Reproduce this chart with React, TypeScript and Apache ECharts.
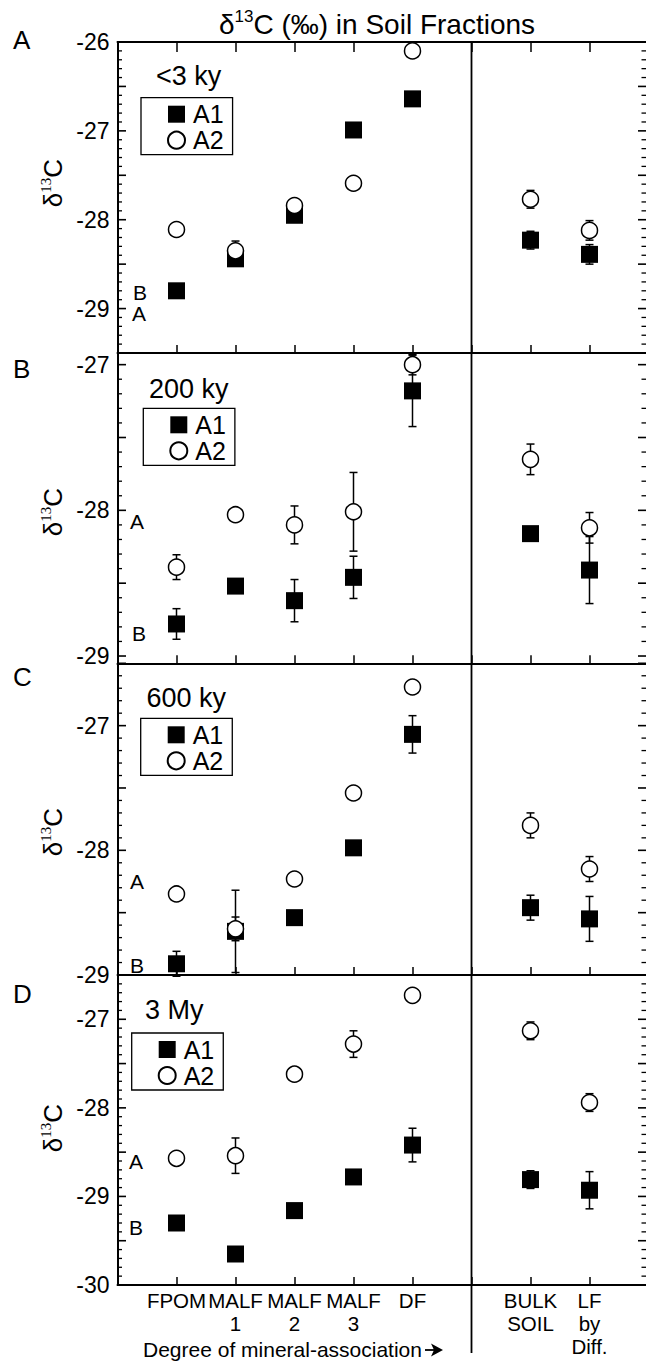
import React, { useEffect, useRef } from 'react';
import * as echarts from 'echarts';

// ---------- data ----------
const categories = ['FPOM', 'MALF\n1', 'MALF\n2', 'MALF\n3', 'DF', 'BULK\nSOIL', 'LF\nby\nDiff.'];
const panelLetters = ['A', 'B', 'C', 'D'];
const ageLabels = ['<3 ky', '200 ky', '600 ky', '3 My'];
const seriesNames = ['A1', 'A2'];

// order: FPOM, MALF1, MALF2, MALF3, DF, BULK SOIL, LF by Diff.
const a1_3ky = [-28.8, -28.44, -27.95, -26.99, -26.64, -28.23, -28.39];
const a1_3ky_err = [0, 0, 0, 0, 0, 0.1, 0.11];
const a2_3ky = [-28.11, -28.35, -27.84, -27.59, -26.1, -27.77, -28.12];
const a2_3ky_err = [0, 0.11, 0, 0, 0, 0.1, 0.11];

const a1_200ky = [-28.78, -28.52, -28.62, -28.46, -27.18, -28.16, -28.41];
const a1_200ky_err = [0.105, 0, 0.145, 0.145, 0.245, 0, 0.23];
const a2_200ky = [-28.39, -28.03, -28.1, -28.01, -27.0, -27.65, -28.12];
const a2_200ky_err = [0.085, 0, 0.13, 0.27, 0.07, 0.105, 0.105];

const a1_600ky = [-28.91, -28.65, -28.54, -27.98, -27.07, -28.46, -28.55];
const a1_600ky_err = [0.1, 0.33, 0, 0, 0.15, 0.1, 0.18];
const a2_600ky = [-28.35, -28.63, -28.23, -27.54, -26.69, -27.8, -28.15];
const a2_600ky_err = [0, 0.095, 0, 0, 0, 0.1, 0.1];

const a1_3my = [-29.3, -29.65, -29.16, -28.78, -28.42, -28.81, -28.93];
const a1_3my_err = [0, 0, 0, 0, 0.19, 0.1, 0.21];
const a2_3my = [-28.57, -28.54, -27.62, -27.28, -26.73, -27.13, -27.94];
const a2_3my_err = [0, 0.2, 0, 0.15, 0, 0.1, 0.1];

const yMin = [-29.5, -29.05, -29, -30];
const yMax = [-26, -26.92, -26.5, -26.5];
const yTickLabels = [
  [-29, -28, -27, -26],
  [-29, -28, -27],
  [-29, -28, -27],
  [-30, -29, -28, -27],
];

const panelData = [
  { a1: a1_3ky, a1e: a1_3ky_err, a2: a2_3ky, a2e: a2_3ky_err },
  { a1: a1_200ky, a1e: a1_200ky_err, a2: a2_200ky, a2e: a2_200ky_err },
  { a1: a1_600ky, a1e: a1_600ky_err, a2: a2_600ky, a2e: a2_600ky_err },
  { a1: a1_3my, a1e: a1_3my_err, a2: a2_3my, a2e: a2_3my_err },
];

// ---------- layout ----------
const FONT = '"Liberation Sans", Arial, Helvetica, sans-serif';
const L = 117.5;
const W = 531;
const X_MAX = 9;
const tops = [42, 353, 663.3, 975];
const bottoms = [353, 663.3, 975, 1285];
// x slot on axis: 5 fractions, a gap, then bulk soil & LF
const slotOf = (j: number) => (j < 5 ? j + 1 : j + 2);
const slots = categories.map((_, j) => slotOf(j));

function steps(min: number, max: number, step: number) {
  const out: number[] = [];
  const s = Math.ceil(min / step - 1e-6);
  const e = Math.floor(max / step + 1e-6);
  for (let k = s; k <= e; k++) out.push(Math.round(k * step * 10) / 10);
  return out;
}

const blk = '#000';

function buildOption() {
  const grid: any[] = [];
  const xAxis: any[] = [];
  const yAxis: any[] = [];
  const series: any[] = [];
  const legend: any[] = [];

  for (let i = 0; i < 4; i++) {
    grid.push({
      left: L, width: W, top: tops[i], height: bottoms[i] - tops[i],
      show: false, containLabel: false, outerBoundsMode: 'none',
    });
    xAxis.push({
      gridIndex: i, type: 'value', min: 0, max: X_MAX, interval: 1, position: 'bottom',
      axisLine: { show: true, onZero: false, lineStyle: { color: blk, width: 2 } },
      axisTick: { show: true, inside: true, length: 8, lineStyle: { color: blk, width: 1.5 } },
      axisLabel: i === 3 ? {
        show: true, customValues: slots,
        formatter: (v: number) => categories[slots.indexOf(v)] ?? '',
        fontSize: 20.5, lineHeight: 23, color: blk, fontFamily: FONT, margin: 4,
      } : { show: false },
      splitLine: { show: false },
    });
  }
  // top axis of panel A
  xAxis.push({
    gridIndex: 0, type: 'value', min: 0, max: X_MAX, interval: 1, position: 'top',
    axisLine: { show: true, onZero: false, lineStyle: { color: blk, width: 2 } },
    axisTick: { show: true, inside: true, length: 10, lineStyle: { color: blk, width: 1.5 } },
    axisLabel: { show: false }, splitLine: { show: false },
  });

  for (let i = 0; i < 4; i++) {
    yAxis.push({
      gridIndex: i, type: 'value', min: yMin[i], max: yMax[i], position: 'left',
      axisLine: { show: true, onZero: false, lineStyle: { color: blk, width: 2 } },
      axisTick: { show: false },
      axisLabel: {
        show: true, customValues: yTickLabels[i], formatter: (v: number) => String(v),
        fontSize: 23, color: blk, fontFamily: FONT, margin: 8,
      },
      splitLine: { show: false },
    });

    const d = panelData[i];

    // y-axis ticks on both frame sides (every 0.1, longer every 0.5), as thin rect symbols
    const tickItems: any[] = [];
    steps(yMin[i], yMax[i], 0.1).forEach((v) => {
      const major = Math.abs(v * 2 - Math.round(v * 2)) < 1e-6;
      const lenL = major ? 8.5 : 4.5;
      const lenR = major ? 10.5 : 7;
      const h = major ? 1.6 : 1.3;
      tickItems.push({ value: [0, v], symbolSize: [lenL, h], symbolOffset: [lenL / 2, 0] });
      tickItems.push({ value: [X_MAX, v], symbolSize: [lenR, h], symbolOffset: [-lenR / 2, 0] });
    });
    series.push({
      name: 'yticks' + i, type: 'scatter', xAxisIndex: i, yAxisIndex: i, z: 4, silent: true,
      clip: false, symbol: 'rect', itemStyle: { color: blk, opacity: 1 },
      emphasis: { disabled: true },
      data: tickItems,
    });

    const errData: number[][] = [];
    d.a1.forEach((v, j) => { if (d.a1e[j] > 0) errData.push([slotOf(j), v, d.a1e[j]]); });
    d.a2.forEach((v, j) => { if (d.a2e[j] > 0) errData.push([slotOf(j), v, d.a2e[j]]); });

    series.push({
      name: 'err' + i, type: 'custom', xAxisIndex: i, yAxisIndex: i, z: 1, silent: true,
      encode: { x: 0, y: 1 },
      data: errData,
      renderItem: (params: any, api: any) => {
        const x = api.value(0), y = api.value(1), e = api.value(2);
        const p1 = api.coord([x, y + e]);
        const p2 = api.coord([x, y - e]);
        const hw = 4;
        const st = { stroke: blk, lineWidth: 1.5 };
        return {
          type: 'group',
          children: [
            { type: 'line', shape: { x1: p1[0], y1: p1[1], x2: p2[0], y2: p2[1] }, style: st },
            { type: 'line', shape: { x1: p1[0] - hw, y1: p1[1], x2: p1[0] + hw, y2: p1[1] }, style: st },
            { type: 'line', shape: { x1: p2[0] - hw, y1: p2[1], x2: p2[0] + hw, y2: p2[1] }, style: st },
          ],
        };
      },
    });
    series.push({
      name: seriesNames[0], type: 'scatter', xAxisIndex: i, yAxisIndex: i, z: 2, silent: true,
      symbol: 'rect', symbolSize: 17,
      itemStyle: { color: blk, opacity: 1 },
      data: d.a1.map((v, j) => [slotOf(j), v]),
    });
    series.push({
      name: seriesNames[1], type: 'scatter', xAxisIndex: i, yAxisIndex: i, z: 3, silent: true,
      symbol: 'circle', symbolSize: 16,
      itemStyle: { color: '#fff', borderColor: blk, borderWidth: 1.5, opacity: 1 },
      data: d.a2.map((v, j) => [slotOf(j), v]),
    });
  }

  const legendPos = [[141, 97.7], [143.3, 408.3], [140.7, 718.3], [131.7, 1033]];
  legendPos.forEach(([lx, ly]) => {
    legend.push({
      data: [{ name: seriesNames[0], icon: 'rect' }, { name: seriesNames[1], icon: 'circle' }],
      orient: 'vertical', left: lx, top: ly,
      padding: [4, 9, 2, 26], itemGap: 1, itemWidth: 17, itemHeight: 17,
      borderColor: blk, borderWidth: 1.3, selectedMode: false,
      textStyle: { fontSize: 25, lineHeight: 22, color: blk, fontFamily: FONT, padding: [0, 0, 0, 3] },
    });
  });

  const txt = (x: number, y: number, text: string, size: number, align = 'left', extra: any = {}) => ({
    type: 'text', x, y, silent: true,
    style: {
      text, fontSize: size, fontFamily: FONT, fill: blk,
      align, textAlign: align, verticalAlign: 'middle', textVerticalAlign: 'middle', ...extra,
    },
  });

  const graphic: any[] = [];
  // title
  graphic.push({
    type: 'text', x: 377, y: 24, silent: true,
    style: {
      text: '{a|δ}{b|13}{a|C (‰) in Soil Fractions}',
      align: 'center', textAlign: 'center', verticalAlign: 'middle', textVerticalAlign: 'middle',
      fill: blk,
      rich: {
        a: { fontSize: 28, fontFamily: FONT, lineHeight: 32, fill: blk, color: blk },
        b: { fontSize: 17, fontFamily: FONT, lineHeight: 20, verticalAlign: 'top', fill: blk, color: blk },
      },
    },
  });
  const letterY = [40, 369, 677, 994];
  letterY.forEach((y, i) => graphic.push(txt(13, y, panelLetters[i], 26)));
  const agePos = [[156, 76], [149, 389], [146.5, 698], [145, 1010]];
  agePos.forEach(([x, y], i) => graphic.push(txt(x, y, ageLabels[i], 27)));
  // horizon markers
  const markers: [number, number, string][] = [
    [133, 292, 'B'], [132, 313, 'A'],
    [130, 521, 'A'], [132, 633, 'B'],
    [130, 881, 'A'], [130, 965, 'B'],
    [129, 1161, 'A'], [129, 1227, 'B'],
  ];
  markers.forEach(([x, y, t]) => graphic.push(txt(x, y, t, 21)));
  // y axis names
  const yNameY = [183, 512, 832, 1128];
  yNameY.forEach((y) => graphic.push({
    type: 'text', x: 53, y, rotation: Math.PI / 2, silent: true,
    style: {
      text: '{a|δ}{b|13}{a|C}',
      align: 'center', textAlign: 'center', verticalAlign: 'middle', textVerticalAlign: 'middle',
      fill: blk,
      rich: {
        a: { fontSize: 26, fontFamily: FONT, lineHeight: 30, fill: blk, color: blk },
        b: { fontSize: 15, fontFamily: '"Liberation Serif", "DejaVu Serif", serif', lineHeight: 18, verticalAlign: 'top', fill: blk, color: blk },
      },
    },
  }));
  // divider between fractions and bulk
  const divX = L + (W * 6) / X_MAX;
  graphic.push({ type: 'line', silent: true, shape: { x1: divX, y1: tops[0], x2: divX, y2: 1353 }, style: { stroke: blk, lineWidth: 1.8 } });
  // bottom caption + arrow
  graphic.push(txt(143, 1349, 'Degree of mineral-association', 21));
  graphic.push({ type: 'line', silent: true, shape: { x1: 425, y1: 1350, x2: 435, y2: 1350 }, style: { stroke: blk, lineWidth: 1.8 } });
  graphic.push({ type: 'polygon', silent: true, shape: { points: [[431, 1343.5], [443, 1350], [431, 1356.5], [434, 1350]] }, style: { fill: blk } });

  return {
    animation: false,
    backgroundColor: '#fff',
    textStyle: { fontFamily: FONT },
    grid, xAxis, yAxis, series, legend, graphic,
  };
}

export default function App() {
  const ref = useRef<HTMLDivElement>(null);
  useEffect(() => {
    if (!ref.current) return;
    const chart = echarts.init(ref.current, undefined, { renderer: 'svg' });
    chart.setOption(buildOption() as any);
    return () => chart.dispose();
  }, []);
  return (
    <div
      ref={ref}
      style={{ position: 'absolute', left: 0, top: 0, width: 646, height: 1362, background: '#fff' }}
    />
  );
}
